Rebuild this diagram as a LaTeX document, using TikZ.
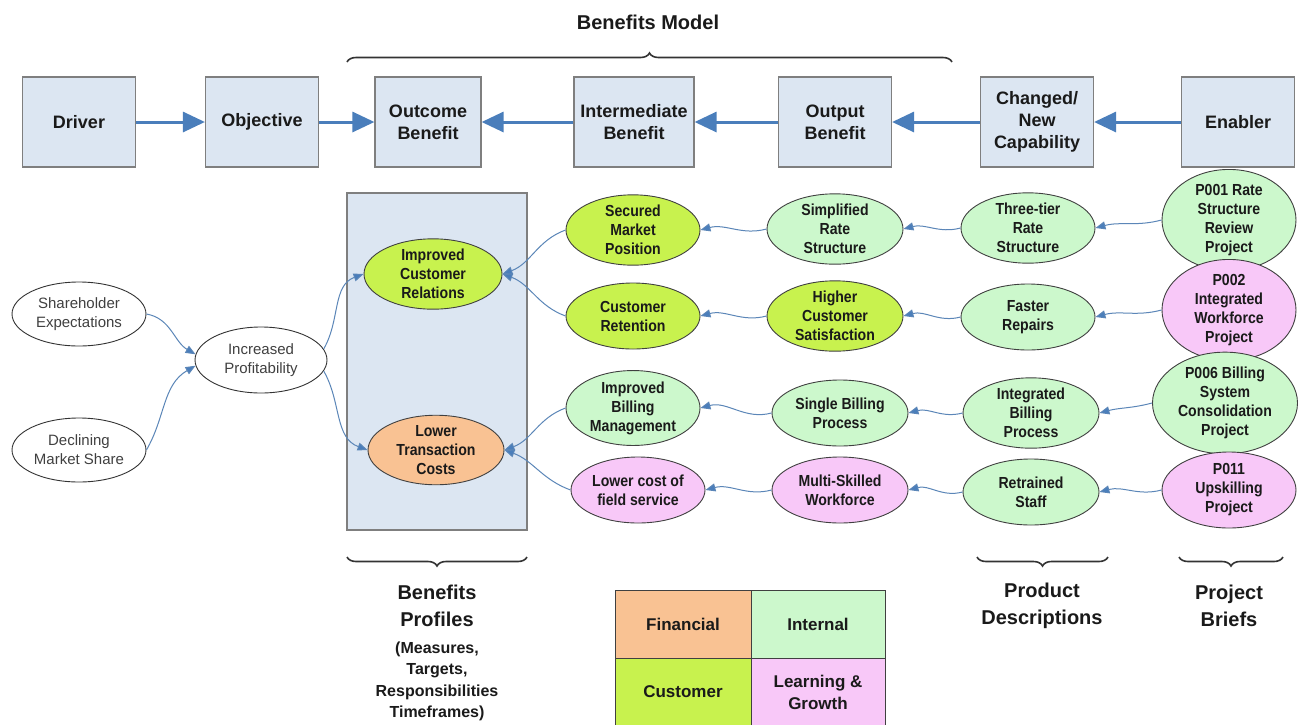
\documentclass[tikz,border=0pt]{standalone}
\usepackage{fontspec}
\setmainfont{Liberation Sans}
\newfontfamily\narrowf[FakeStretch=0.88]{Liberation Sans}
\usetikzlibrary{shapes.geometric,arrows.meta,decorations.pathreplacing}
\definecolor{boxfill}{HTML}{DCE6F2}
\definecolor{boxline}{HTML}{7F7F7F}
\definecolor{arrowblue}{HTML}{4A7EBB}
\definecolor{thinblue}{HTML}{5B86B8}
\definecolor{custc}{HTML}{C8F24E}
\definecolor{intc}{HTML}{CCF8CC}
\definecolor{learnc}{HTML}{F8C8F8}
\definecolor{finc}{HTML}{F9C293}
\definecolor{txt}{HTML}{1A1A1A}
\begin{document}
\begin{tikzpicture}[x=1pt,y=1pt,
  topbox/.style={draw=boxline,fill=boxfill,line width=1.2pt,minimum width=113pt,minimum height=90pt,
    align=center,font=\bfseries\fontsize{18}{22}\selectfont,text=txt,inner sep=0pt},
  bigarrow/.style={line width=3pt,draw=arrowblue,-{Triangle[length=22pt,width=20pt,fill=arrowblue]}},
  ell/.style={ellipse,draw=black!75,line width=0.9pt,minimum width=134pt,minimum height=66pt,inner sep=0pt,
    align=center,font=\narrowf\bfseries\fontsize{16}{19}\selectfont,text=txt},
  wellipse/.style={ellipse,draw=black!80,fill=white,line width=0.9pt,minimum width=134pt,minimum height=64pt,inner sep=0pt,
    align=center,font=\fontsize{15}{19}\selectfont,text=black!75},
  cust/.style={ell,fill=custc},
  intl/.style={ell,fill=intc},
  learn/.style={ell,fill=learnc},
  fin/.style={ell,fill=finc},
  conn/.style={draw=thinblue,line width=1pt,-{Triangle[length=10pt,width=8pt,fill=arrowblue]}},
  bracepath/.style={draw=black!80,line width=1.6pt,decorate,decoration={brace,amplitude=9pt}},
  lbl/.style={align=center,font=\bfseries\fontsize{20}{27}\selectfont,text=txt,inner sep=0pt},
  lblsmall/.style={align=center,font=\bfseries\fontsize{16}{21.5}\selectfont,text=txt,inner sep=0pt},
  legcell/.style={draw=black!75,line width=1pt,minimum width=136pt,minimum height=68pt,inner sep=0pt,
    align=center,font=\bfseries\fontsize{17}{22}\selectfont,text=txt}
]
\useasboundingbox[fill=white] (0,0) rectangle (1299,-724);

% title and top brace
\node[font=\bfseries\fontsize{20}{24}\selectfont,text=txt] (title) at (648,-22) {Benefits Model};
\coordinate (tbl) at (347,-62);
\coordinate (tbr) at (952,-62);
\draw[bracepath] (tbl) -- (tbr);

% top row boxes
\node[topbox] (driver) at (79,-122) {Driver};
\node[topbox] (objective) at (262,-122) {Objective};
\node[topbox,minimum width=106pt] (outcome) at (428,-122) {Outcome\\Benefit};
\node[topbox,minimum width=120pt] (inter) at (634,-122) {Intermediate\\Benefit};
\node[topbox] (output) at (835,-122) {Output\\Benefit};
\node[topbox] (changed) at (1037,-122) {Changed/\\New\\Capability};
\node[topbox] (enabler) at (1238,-122) {Enabler};

\draw[bigarrow] (driver.east) -- (objective.west);
\draw[bigarrow] (objective.east) -- (outcome.west);
\draw[bigarrow] (inter.west) -- (outcome.east);
\draw[bigarrow] (output.west) -- (inter.east);
\draw[bigarrow] (changed.west) -- (output.east);
\draw[bigarrow] (enabler.west) -- (changed.east);

% benefits profiles panel
\node[draw=boxline,fill=boxfill,line width=1.2pt,minimum width=180pt,minimum height=337pt,inner sep=0pt] (panel) at (437,-361.5) {};

% left ellipses
\node[wellipse] (shx) at (79,-314) {Shareholder\\Expectations};
\node[wellipse] (dms) at (79,-450) {Declining\\Market Share};
\node[wellipse,minimum width=132pt,minimum height=66pt] (ip) at (261,-360) {Increased\\Profitability};
\node[cust,minimum width=138pt] (icr) at (433,-274) {Improved\\Customer\\Relations};
\node[fin,minimum width=136pt] (ltc) at (436,-450) {Lower\\Transaction\\Costs};

% row 1
\node[cust] (smp) at (633,-230) {Secured\\Market\\Position};
\node[intl,minimum width=136pt] (srs) at (835,-229) {Simplified\\Rate\\Structure};
\node[intl] (trs) at (1028,-228) {Three-tier\\Rate\\Structure};
\node[intl,minimum height=80pt] (p001) at (1229,-220) {P001 Rate\\Structure\\Review\\Project};
% row 2
\node[cust] (cr) at (633,-316) {Customer\\Retention};
\node[cust,minimum width=136pt] (hcs) at (835,-316) {Higher\\Customer\\Satisfaction};
\node[intl] (fr) at (1028,-317) {Faster\\Repairs};
\node[learn,minimum height=84pt] (p002) at (1229,-310) {P002\\Integrated\\Workforce\\Project};
% row 3
\node[intl] (ibm) at (633,-408) {Improved\\Billing\\Management};
\node[intl,minimum width=136pt] (sbp) at (840,-413) {Single Billing\\Process};
\node[intl,minimum width=136pt] (ibp) at (1031,-413) {Integrated\\Billing\\Process};
\node[intl,minimum width=145pt,minimum height=86pt] (p006) at (1225,-403) {P006 Billing\\System\\Consolidation\\Project};
% row 4
\node[learn] (lcf) at (638,-490) {Lower cost of\\field service};
\node[learn,minimum width=136pt] (msw) at (840,-490) {Multi-Skilled\\Workforce};
\node[intl,minimum width=136pt] (rs) at (1031,-492) {Retrained\\Staff};
\node[learn,minimum height=76pt] (p011) at (1229,-490) {P011\\Upskilling\\Project};

% connectors
\draw[conn] (shx.east) to[out=-10,in=150] (ip.175);
\draw[conn] (dms.east) to[out=60,in=210] (ip.185);
\draw[conn] (ip.10) to[out=60,in=200] (icr.west);
\draw[conn] (ip.-10) to[out=-60,in=160] (ltc.west);
\draw[conn] (smp.west) to[out=200,in=20] (icr.east);
\draw[conn] (cr.west) to[out=160,in=-20] (icr.east);
\draw[conn] (ibm.west) to[out=200,in=20] (ltc.east);
\draw[conn] (lcf.west) to[out=160,in=-20] (ltc.east);

\draw[conn] (srs.west) to[out=195,in=15] (smp.east);
\draw[conn] (trs.west) to[out=195,in=15] (srs.east);
\draw[conn] (p001.west) to[out=195,in=15] (trs.east);
\draw[conn] (hcs.west) to[out=195,in=15] (cr.east);
\draw[conn] (fr.west) to[out=195,in=15] (hcs.east);
\draw[conn] (p002.west) to[out=195,in=15] (fr.east);
\draw[conn] (sbp.west) to[out=195,in=15] (ibm.east);
\draw[conn] (ibp.west) to[out=195,in=15] (sbp.east);
\draw[conn] (p006.west) to[out=195,in=15] (ibp.east);
\draw[conn] (msw.west) to[out=195,in=15] (lcf.east);
\draw[conn] (rs.west) to[out=195,in=15] (msw.east);
\draw[conn] (p011.west) to[out=195,in=15] (rs.east);

% bottom braces and labels
\coordinate (b1l) at (347,-557);
\coordinate (b1r) at (527,-557);
\draw[bracepath] (b1r) -- (b1l);
\coordinate (b2l) at (977,-557);
\coordinate (b2r) at (1108,-557);
\draw[bracepath] (b2r) -- (b2l);
\coordinate (b3l) at (1179,-557);
\coordinate (b3r) at (1283,-557);
\draw[bracepath] (b3r) -- (b3l);

\node[lbl] (bp) at (437,-605.5) {Benefits\\Profiles};
\node[lblsmall] (bpsub) at (437,-681.5) {(Measures,\\Targets,\\Responsibilities\\Timeframes)};
\node[lbl] (pd) at (1042,-605.5) {Product\\Descriptions};
\node[lbl] (pb) at (1229,-605.5) {Project\\Briefs};

% legend
\node[legcell,fill=finc,minimum width=136pt] (lfin) at (683,-624) {Financial};
\node[legcell,fill=intc,minimum width=134pt] (lint) at (818,-624) {Internal};
\node[legcell,fill=custc,minimum width=136pt] (lcus) at (683,-692) {Customer};
\node[legcell,fill=learnc,minimum width=134pt] (llg) at (818,-692) {Learning \&\\Growth};
\end{tikzpicture}
\end{document}
